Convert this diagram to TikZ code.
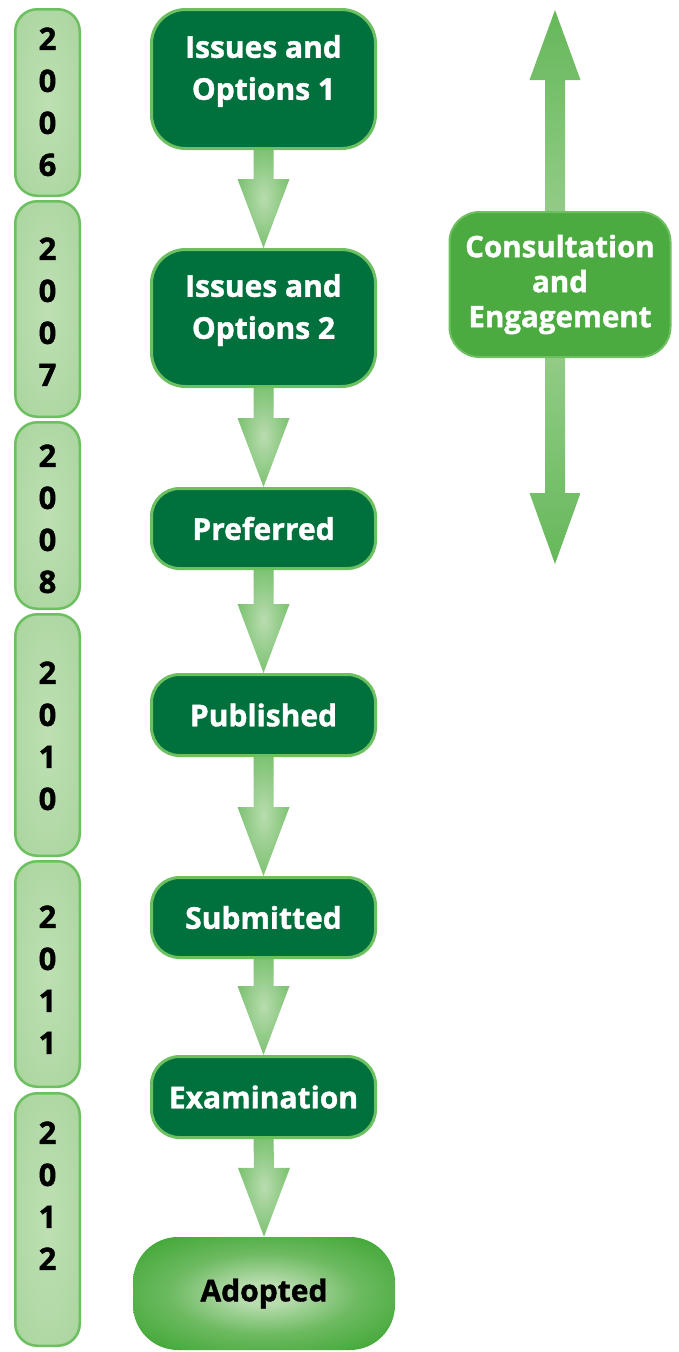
\documentclass[tikz,border=0pt]{standalone}
\usepackage{fontspec}
\setmainfont{Open Sans}[BoldFeatures={FakeBold=1.3}]
\usetikzlibrary{calc,backgrounds}
\definecolor{darkgreen}{HTML}{00703C}
\definecolor{rimgreen}{HTML}{6CC05F}
\definecolor{midgreen}{HTML}{4BAB40}
\definecolor{consrim}{HTML}{6DBF60}
\definecolor{yearlight}{HTML}{BEE0B3}
\definecolor{yeardark}{HTML}{A7D39B}
\definecolor{yearcorner}{HTML}{9CCD90}
\definecolor{glowlight}{HTML}{B9DCAF}
\definecolor{glowmid}{HTML}{88C77E}
\definecolor{glowdark}{HTML}{58B14D}
\definecolor{shaftlight}{HTML}{A9D59E}
\definecolor{shafttip}{HTML}{4FAE43}
\definecolor{adoptlight}{HTML}{B8DCAE}
\definecolor{adoptmid}{HTML}{6DBA61}
\definecolor{adoptouter}{HTML}{48AA3D}
\pgfdeclareradialshading{yearglow}{\pgfpoint{0bp}{0bp}}{color(0bp)=(yearlight); color(40bp)=(yeardark); color(50bp)=(yearcorner)}
\pgfdeclareradialshading{arrowglow}{\pgfpoint{0bp}{0bp}}{color(0bp)=(glowlight); color(20bp)=(glowmid); color(42bp)=(glowdark); color(50bp)=(glowdark)}
\pgfdeclareradialshading{adoptglow}{\pgfpoint{0bp}{0bp}}{color(0bp)=(adoptlight); color(5bp)=(adoptlight); color(18bp)=(adoptmid); color(30bp)=(adoptouter); color(50bp)=(adoptouter)}
\pgfdeclareverticalshading{upfade}{100bp}{color(0bp)=(shaftlight); color(100bp)=(shafttip)}
\pgfdeclareverticalshading{downfade}{100bp}{color(0bp)=(shafttip); color(100bp)=(shaftlight)}
\tikzset{
  yearbox/.style={draw=rimgreen, line width=2.5pt, rounded corners=22pt, shading=yearglow, minimum width=64.5pt, inner sep=0pt},
  yeartext/.style={font=\fontsize{31}{42}\selectfont\bfseries, text=black, align=center, inner sep=0pt, anchor=north},
  darkbox/.style={draw=rimgreen, line width=3pt, fill=darkgreen, minimum width=224pt, inner sep=0pt,
    font=\fontsize{30}{42}\selectfont\bfseries, text=white, align=center},
  boxlabel/.style={font=\fontsize{30}{42}\selectfont\bfseries, text=white, align=center, inner sep=0pt},
  consbox/.style={draw=consrim, line width=2pt, fill=midgreen, rounded corners=30pt, minimum width=221pt, minimum height=145pt,
    inner sep=0pt, font=\fontsize{29.5}{35}\selectfont\bfseries, text=white, align=center},
  adoptbox/.style={shading=adoptglow, rounded corners=45pt, minimum width=262pt, minimum height=113pt, inner sep=0pt,
    font=\fontsize{30}{42}\selectfont\bfseries, text=black},
  flowarrowfill/.style={shading=arrowglow},
  upshade/.style={shading=upfade},
  downshade/.style={shading=downfade}
}
\newcommand\flowarrow[2]{%
  \path[flowarrowfill] ($(#1.south)+(-10,-2)$) -- ($(#2.north)+(-10,-69)$) -- ($(#2.north)+(-26,-69)$) -- (#2.north)
    -- ($(#2.north)+(26,-69)$) -- ($(#2.north)+(10,-69)$) -- ($(#1.south)+(10,-2)$) -- cycle;}
\begin{document}
\begin{tikzpicture}[x=1pt,y=-1pt]
\useasboundingbox (0,0) rectangle (678,1352);
% year column
\node[yearbox, minimum height=186.5pt] (b2006) at (47.5,102.5) {};
\node[yearbox, minimum height=215.5pt] (b2007) at (47.5,309) {};
\node[yearbox, minimum height=186.5pt] (b2008) at (47.5,515.5) {};
\node[yearbox, minimum height=241.5pt] (b2010) at (47.5,735) {};
\node[yearbox, minimum height=225.5pt] (b2011) at (47.5,974) {};
\node[yearbox, minimum height=252.5pt] (b2012) at (47.5,1219.5) {};
\node[yeartext] (t2006) at (47.5,27.3) {2\\0\\0\\6};
\node[yeartext] (t2007) at (47.5,237.3) {2\\0\\0\\7};
\node[yeartext] (t2008) at (47.5,444.3) {2\\0\\0\\8};
\node[yeartext] (t2010) at (47.5,661.3) {2\\0\\1\\0};
\node[yeartext] (t2011) at (47.5,905.3) {2\\0\\1\\1};
\node[yeartext] (t2012) at (47.5,1121.3) {2\\0\\1\\2};
% main flow
\node[darkbox, minimum height=139pt, rounded corners=34pt] (io1) at (263.5,79) {};
\node[boxlabel] (io1t) at ($(io1.center)+(0,-8)$) {Issues and\\Options 1};
\node[darkbox, minimum height=137pt, rounded corners=34pt] (io2) at (263.5,318) {};
\node[boxlabel] (io2t) at ($(io2.center)+(0,-8)$) {Issues and\\Options 2};
\node[darkbox, minimum height=80pt, rounded corners=28pt] (pref) at (263.5,528.5) {Preferred};
\node[darkbox, minimum height=81pt, rounded corners=28pt] (pub) at (263.5,715) {Published};
\node[darkbox, minimum height=80pt, rounded corners=28pt] (sub) at (263.5,917.5) {Submitted};
\node[darkbox, minimum height=81pt, rounded corners=28pt] (exam) at (263.5,1097) {Examination};
\node[adoptbox] (adopt) at (264,1293.5) {Adopted};
% consultation
\node[consbox] (cons) at (560,284.5) {Consultation\\and\\Engagement};
\coordinate (ctop) at (555,10);
\coordinate (cbot) at (555,564);
\begin{pgfonlayer}{background}
\flowarrow{io1}{io2}
\flowarrow{io2}{pref}
\flowarrow{pref}{pub}
\flowarrow{pub}{sub}
\flowarrow{sub}{exam}
\flowarrow{exam}{adopt}
\path[upshade] (ctop) -- ++(25.5,70) -- ++(-15.5,0) -- ($(cons.north)+(5,2)$) -- ($(cons.north)+(-15,2)$)
  -- ($(ctop)+(-10,70)$) -- ++(-15.5,0) -- cycle;
\path[downshade] (cbot) -- ++(25.5,-71) -- ++(-15.5,0) -- ($(cons.south)+(5,-2)$) -- ($(cons.south)+(-15,-2)$)
  -- ($(cbot)+(-10,-71)$) -- ++(-15.5,0) -- cycle;
\end{pgfonlayer}
\end{tikzpicture}
\end{document}
